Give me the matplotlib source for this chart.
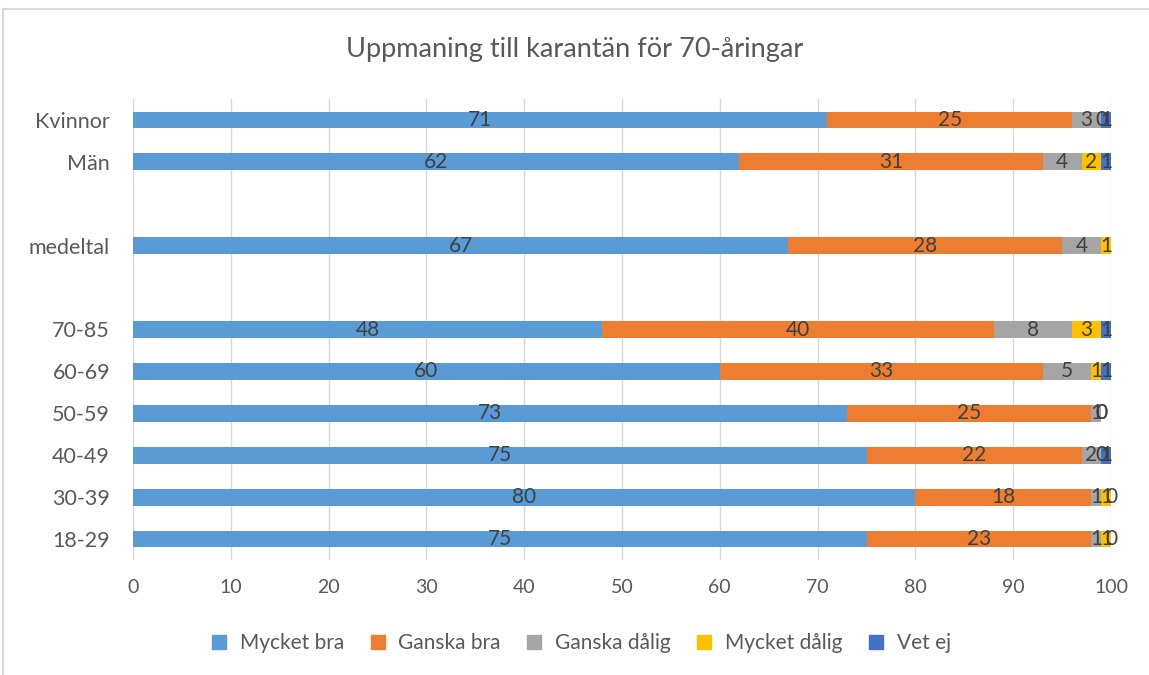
import numpy as np
import matplotlib
matplotlib.use("Agg")
import matplotlib.pyplot as plt
from matplotlib.lines import Line2D

plt.rcParams['font.family'] = ['Lato', 'DejaVu Sans']

# --- Data (top to bottom, blank rows are spacers) ---
categories = ["Kvinnor", "Män", "", "medeltal", "", "70-85", "60-69", "50-59", "40-49", "30-39", "18-29"]
series_names = ["Mycket bra", "Ganska bra", "Ganska dålig", "Mycket dålig", "Vet ej"]
mycket_bra = [71, 62, np.nan, 67, np.nan, 48, 60, 73, 75, 80, 75]
ganska_bra = [25, 31, np.nan, 28, np.nan, 40, 33, 25, 22, 18, 23]
ganska_dalig = [3, 4, np.nan, 4, np.nan, 8, 5, 1, 2, 1, 1]
mycket_dalig = [0, 2, np.nan, 1, np.nan, 3, 1, 0, 0, 1, 1]
vet_ej = [1, 1, np.nan, 0.3, np.nan, 1, 1, 0, 1, 0, 0]
colors = ["#5B9BD5", "#ED7D31", "#A5A5A5", "#FFC000", "#4472C4"]

fig = plt.figure(figsize=(11.49, 6.75), dpi=100)
ax = fig.add_axes([133 / 1149, 1 - 560 / 675, (1111 - 133) / 1149, (560 - 99) / 675])

y = np.arange(len(categories))
left = np.zeros(len(categories))
handles = []
for name, vals, col in zip(series_names,
                           [mycket_bra, ganska_bra, ganska_dalig, mycket_dalig, vet_ej],
                           colors):
    v = np.array(vals, dtype=float)
    bars = ax.barh(y, np.nan_to_num(v), left=left, height=0.4, color=col, zorder=3)
    labels = []
    for val in v:
        if np.isnan(val) or (0 < val < 0.5):
            labels.append("")
        else:
            labels.append(f"{val:.0f}")
    ax.bar_label(bars, labels=labels, label_type="center", color="#404040", fontsize=15, zorder=4)
    left += np.nan_to_num(v)
    handles.append(Line2D([], [], marker="s", linestyle="", markersize=10,
                          markerfacecolor=col, markeredgecolor=col, label=name))

ax.set_yticks(y)
ax.set_yticklabels(categories)
ax.set_ylim(len(categories) - 0.5, -0.5)
ax.set_xlim(0, 100)
ax.set_xticks(np.arange(0, 101, 10))
ax.tick_params(axis="y", length=0, labelsize=15.5, colors="#595959", pad=16.5)
ax.tick_params(axis="x", length=0, labelsize=14, colors="#595959", pad=14)
ax.grid(axis="x", color="#D9D9D9", linewidth=1, zorder=0)
for s in ax.spines.values():
    s.set_visible(False)

fig.text(0.5, 1 - 50 / 675, "Uppmaning till karantän för 70-åringar",
         ha="center", va="center", fontsize=19.5, color="#595959")

fig.legend(handles=handles, loc="center", bbox_to_anchor=(0.5, 1 - 643 / 675),
           ncol=5, frameon=False, fontsize=15, handletextpad=0.0, columnspacing=0.6,
           labelcolor="#595959")

# chart border (top and left visible)
fig.add_artist(Line2D([3 / 1149, 3 / 1149], [0, 1 - 9 / 675], transform=fig.transFigure,
                      color="#D9D9D9", linewidth=1.5))
fig.add_artist(Line2D([3 / 1149, 1], [1 - 9 / 675, 1 - 9 / 675], transform=fig.transFigure,
                      color="#D9D9D9", linewidth=1.5))

fig.savefig("out.png", dpi=100)
